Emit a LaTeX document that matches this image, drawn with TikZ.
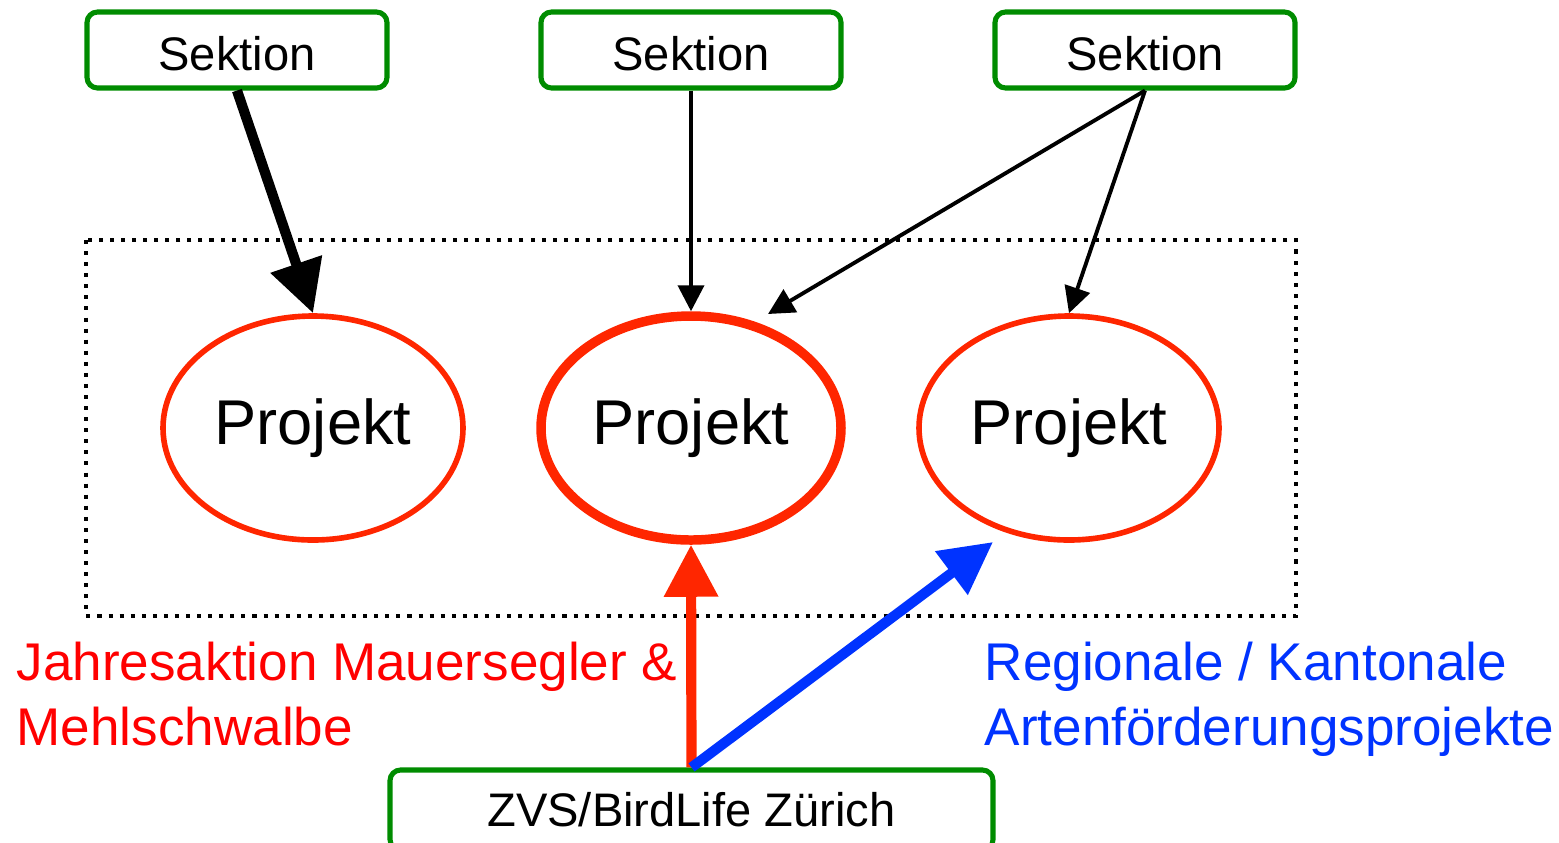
\documentclass[tikz,border=0pt]{standalone}
\usepackage{fontspec}
\setmainfont{Liberation Sans}
\usetikzlibrary{arrows.meta,shapes.geometric}
\definecolor{boxgreen}{RGB}{0,140,0}
\definecolor{projred}{RGB}{255,38,0}
\definecolor{textred}{RGB}{255,0,0}
\definecolor{arrblue}{RGB}{0,51,255}
\tikzset{
  sektion/.style={draw=boxgreen,line width=1.45pt,rounded corners=3pt,
    minimum width=3cm,minimum height=0.76cm,inner sep=0pt,
    text height=0.4cm,text depth=0pt,
    font=\fontsize{13.4}{16}\selectfont},
  projekt/.style={ellipse,draw=projred,minimum width=3cm,minimum height=2.24cm,
    inner sep=0pt,font=\fontsize{18}{22}\selectfont},
  link/.style={line width=1.1pt,-{Triangle[length=0.26cm,width=0.26cm]}},
  biglink/.style={line width=2.9pt,-{Triangle[length=0.52cm,width=0.52cm]}}
}
\begin{document}
\begin{tikzpicture}
  \useasboundingbox (0,0) rectangle (15.59,-8.42);
  % Sektionen oben
  \foreach [count=\i] \x in {2.37,6.91,11.45}
    \node[sektion] (s\i) at (\x,-0.50) {Sektion};
  % Projekte
  \foreach [count=\i] \x/\w in {3.13/1.6pt,6.91/2.7pt,10.69/1.6pt}
    \node[projekt,line width=\w] (p\i) at (\x,-4.28) {Projekt};
  % gepunkteter Rahmen
  \draw[line width=1.15pt,dotted] (0.86,-2.40) rectangle (12.96,-6.16);
  % ZVS
  \node[sektion,minimum width=6.03cm,minimum height=0.8cm,text height=0.33cm]
    (zvs) at (6.915,-8.10) {ZVS/BirdLife Zürich};
  % freie Pfeilenden
  \coordinate (tipA) at (7.68,-3.14);
  \coordinate (tipB) at (9.93,-5.42);
  % Pfeile
  \draw[biglink] (s1.south) -- (p1.north);
  \draw[link] (s2.south) -- (p2.north);
  \draw[link] (s3.south) -- (tipA);
  \draw[link] (s3.south) -- (p3.north);
  \draw[biglink,projred] (zvs.north) -- (p2.south);
  \draw[biglink,arrblue] (zvs.north) -- (tipB);
  % Beschriftungen
  \node[anchor=north west,inner sep=0pt,align=left,text=textred,
    font=\fontsize{15.1}{18.5}\selectfont] (jahr) at (0.16,-6.41)
    {Jahresaktion Mauersegler \&\\Mehlschwalbe};
  \node[anchor=north west,inner sep=0pt,align=left,text=arrblue,
    font=\fontsize{15.1}{18.5}\selectfont] (regio) at (9.84,-6.41)
    {Regionale / Kantonale\\Artenförderungsprojekte};
\end{tikzpicture}
\end{document}
